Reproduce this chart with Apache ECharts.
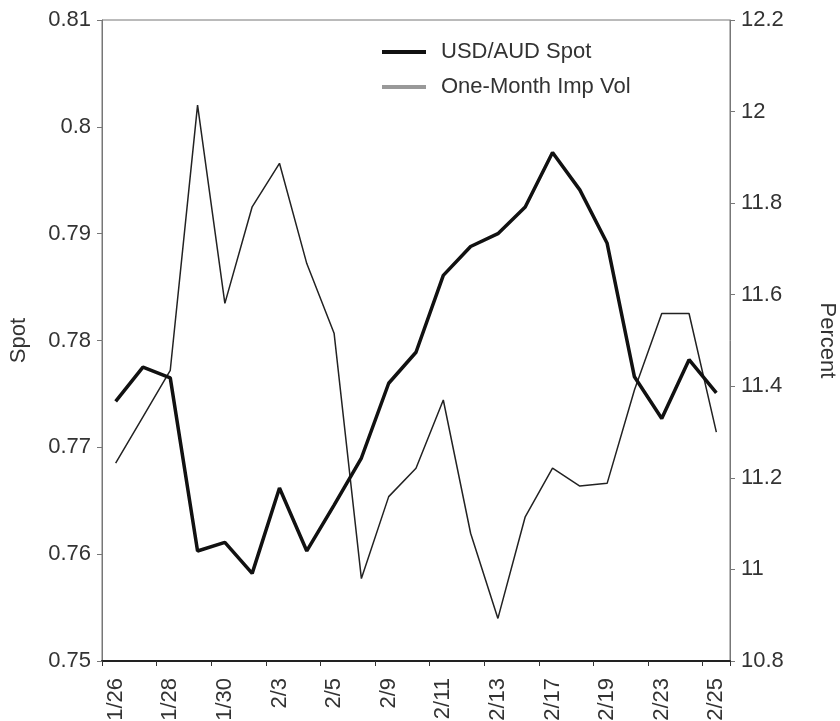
<!DOCTYPE html>
<html>
<head>
<meta charset="utf-8">
<script src="https://cdn.jsdelivr.net/npm/echarts@6/dist/echarts.min.js"></script>
<style>
    html, body { margin: 0; padding: 0; background: #fff; }
    #chart { width: 840px; height: 721px; }
</style>
</head>
<body>
<div id="chart"></div>
<script>
var days = ["1/26", "1/27", "1/28", "1/29", "1/30", "2/2", "2/3", "2/4", "2/5", "2/6",
    "2/9", "2/10", "2/11", "2/12", "2/13", "2/16", "2/17", "2/18", "2/19", "2/20",
    "2/23", "2/24", "2/25"];
var spot = [0.7743, 0.7775, 0.7765, 0.7603, 0.7611, 0.7582, 0.7662, 0.7603, 0.7646, 0.7690,
    0.7760, 0.7789, 0.7861, 0.7888, 0.7900, 0.7925, 0.7976, 0.7941, 0.7891, 0.7766,
    0.7727, 0.7782, 0.7751];
var impVol = [11.232, 11.333, 11.435, 12.014, 11.581, 11.792, 11.887, 11.668, 11.516, 10.980,
    11.159, 11.221, 11.370, 11.079, 10.893, 11.115, 11.221, 11.182, 11.188, 11.392,
    11.559, 11.559, 11.300];
var spotTicks = [0.75, 0.76, 0.77, 0.78, 0.79, 0.8, 0.81];
var volTicks = [10.8, 11, 11.2, 11.4, 11.6, 11.8, 12, 12.2];

var FONT = "'Liberation Sans', Arial, sans-serif";

function fillChart(elementName, option) {
    var dataChart = echarts.init(document.getElementById(elementName));
    if (option && typeof option === "object") {
        dataChart.setOption(option, true);
    }
}

function tickText(list) {
    // keep the labels as printed on the original (0.8 not 0.80)
    return function (v) {
        for (var i = 0; i < list.length; i++) {
            if (Math.abs(list[i] - v) < 1e-9) return String(list[i]);
        }
        return "";
    };
}

var option = {
    backgroundColor: "#fff",
    animation: false,
    grid: {
        left: 102, right: 110, top: 20, bottom: 60,
        outerBoundsMode: "none",
        show: true, borderColor: "#777", borderWidth: 1
    },
    legend: {
        orient: "vertical",
        left: 377,
        top: 36,
        itemWidth: 44,
        itemHeight: 4,
        itemGap: 13,
        textStyle: { fontFamily: FONT, fontSize: 22, color: "#333", padding: [0, 0, 0, 10] },
        data: [
            { name: "USD/AUD Spot", icon: "rect", itemStyle: { color: "#111" } },
            { name: "One-Month Imp Vol", icon: "rect", itemStyle: { color: "#999" } }
        ]
    },
    xAxis: {
        type: "category",
        data: days,
        boundaryGap: true,
        axisLine: { lineStyle: { color: "#222", width: 2 } },
        axisTick: { show: true, length: 5, inside: false, lineStyle: { color: "#333" } },
        axisLabel: { interval: 1, rotate: 90, margin: 17, fontFamily: FONT, fontSize: 22, color: "#333" }
    },
    yAxis: [
        {
            type: "value",
            name: "Spot",
            nameLocation: "middle",
            nameGap: 72,
            nameTextStyle: { fontFamily: FONT, fontSize: 22, color: "#333" },
            min: 0.75, max: 0.81, interval: 0.01,
            splitLine: { show: false },
            axisLine: { show: true, lineStyle: { color: "#777" } },
            axisTick: { show: true, length: 5, lineStyle: { color: "#777" } },
            axisLabel: { margin: 11, fontFamily: FONT, fontSize: 22, color: "#333", formatter: tickText(spotTicks) }
        },
        {
            type: "value",
            name: "Percent",
            nameLocation: "middle",
            nameGap: 86,
            nameRotate: -90,
            nameTextStyle: { fontFamily: FONT, fontSize: 22, color: "#333" },
            min: 10.8, max: 12.2, interval: 0.2,
            splitLine: { show: false },
            axisLine: { show: true, lineStyle: { color: "#777" } },
            axisTick: { show: true, length: 5, lineStyle: { color: "#777" } },
            axisLabel: { margin: 11, fontFamily: FONT, fontSize: 22, color: "#333", formatter: tickText(volTicks) }
        }
    ],
    series: [
        {
            name: "USD/AUD Spot",
            type: "line",
            yAxisIndex: 0,
            data: spot,
            symbol: "none",
            lineStyle: { color: "#111", width: 3.5 },
            itemStyle: { color: "#111" },
            z: 3
        },
        {
            name: "One-Month Imp Vol",
            type: "line",
            yAxisIndex: 1,
            data: impVol,
            symbol: "none",
            lineStyle: { color: "#222", width: 1.5 },
            itemStyle: { color: "#222" },
            z: 2
        }
    ]
};

fillChart("chart", option);
</script>
</body>
</html>
